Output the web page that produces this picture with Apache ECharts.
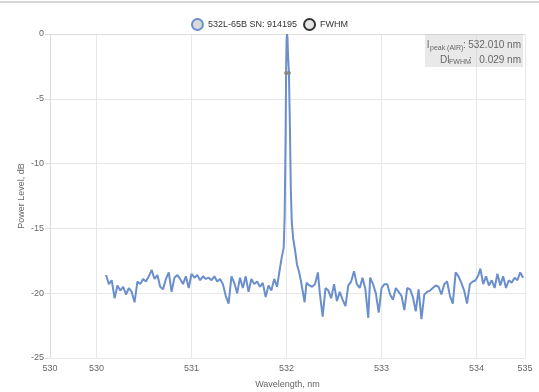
<!DOCTYPE html>
<html>
<head>
<meta charset="utf-8">
<script src="https://cdn.jsdelivr.net/npm/echarts@6/dist/echarts.min.js"></script>
<style>html,body{margin:0;padding:0;background:#fff;}#c{width:539px;height:392px;}</style>
</head>
<body>
<div id="c"></div>
<script>
const seriesName = '532L-65B SN: 914195';
const fwhmName = 'FWHM';
const wavelengths = [
530.10,530.13,530.16,530.19,530.22,530.25,530.28,530.31,530.34,530.37,530.40,530.43,530.46,
530.49,530.52,530.55,530.58,530.61,530.64,530.67,530.70,530.73,530.76,530.79,530.82,530.85,530.88,530.91,530.94,530.97,
531.00,531.03,531.06,531.09,531.12,531.15,531.18,531.21,531.24,531.27,531.30,531.33,531.36,531.39,531.42,531.45,531.48,
531.51,531.54,531.57,531.60,531.63,531.66,531.69,531.72,531.75,531.78,531.81,531.84,531.87,531.90,531.93,531.95,531.97,
531.98,531.99,531.995,532.00,532.005,532.01,532.015,532.025,532.035,532.045,532.055,532.07,532.09,532.11,532.13,532.15,
532.17,532.19,532.21,532.24,532.27,532.30,532.33,532.35,532.38,532.41,532.44,532.47,532.50,532.53,532.56,532.59,532.62,
532.65,532.68,532.71,532.74,532.77,532.80,532.83,532.86,532.88,532.91,532.94,532.97,533.00,533.03,533.06,533.09,533.12,
533.15,533.18,533.21,533.24,533.27,533.30,533.33,533.36,533.39,533.42,533.45,533.48,533.51,533.54,533.57,533.60,533.63,
533.66,533.69,533.72,533.75,533.78,533.81,533.84,533.87,533.90,533.93,533.96,533.99,534.02,534.04,534.07,534.10,534.13,
534.16,534.19,534.22,534.25,534.28,534.31,534.34,534.37,534.40,534.43,534.46,534.49
];
const powerDb = [
-18.6,-19.3,-19.0,-20.4,-19.4,-19.8,-19.5,-20.1,-19.6,-19.9,-20.7,-19.1,-19.3,
-18.9,-19.1,-18.7,-18.2,-18.9,-18.6,-19.5,-19.7,-18.9,-18.4,-19.9,-18.8,-18.6,-18.9,-19.3,-18.7,-19.6,
-18.5,-18.8,-18.6,-19.0,-18.7,-18.9,-18.8,-19.0,-18.7,-19.1,-18.9,-19.3,-20.2,-20.8,-18.7,-19.2,-20.0,
-18.8,-19.6,-18.7,-19.9,-18.9,-19.3,-19.1,-19.5,-19.2,-20.3,-19.4,-19.8,-18.9,-19.5,-18.1,-17.2,-16.5,
-14.0,-8.0,-3.0,-0.5,0,-0.3,-1.5,-3.0,-7.0,-12.0,-14.5,-15.8,-16.7,-17.8,-18.3,-19.0,
-19.1,-20.7,-19.2,-19.4,-19.5,-19.3,-18.4,-20.0,-21.8,-19.6,-19.8,-20.4,-19.3,-20.6,-19.9,-20.5,-21.0,
-19.4,-19.1,-18.3,-19.3,-19.6,-18.8,-19.7,-21.9,-18.8,-19.3,-20.0,-21.5,-19.6,-19.3,-19.3,-20.1,-20.5,
-19.6,-19.9,-20.2,-21.3,-19.6,-19.7,-20.3,-21.4,-19.7,-22.0,-20.1,-19.9,-19.8,-19.6,-19.4,-19.5,-20.1,
-19.3,-19.1,-20.2,-20.8,-18.4,-18.7,-19.2,-19.8,-20.8,-19.3,-19.1,-19.0,-18.6,-18.1,-19.3,-18.7,-19.4,
-19.0,-19.6,-18.5,-19.4,-18.7,-19.6,-19.0,-19.2,-18.8,-19.0,-18.4,-18.8
];
const fwhmWavelengths = [531.9955, 532.0245];
const fwhmPower = [-3, -3];
const peakText = '532.010 nm';
const fwhmText = '0.029 nm';

const chart = echarts.init(document.getElementById('c'), null, {renderer: 'canvas'});
const lineColor = '#6a8fcc';
const axisText = '#666';
const ff = 'Arial, Liberation Sans, sans-serif';
function t(x, y, text, size, align) {
  return {type: 'text', x: x, y: y, z: 11, style: {text: text, align: align || 'left', verticalAlign: 'middle', fontSize: size, fill: axisText, fontFamily: ff}};
}
chart.setOption({
  animation: false,
  grid: {left: 50, right: 14, top: 34, bottom: 34, containLabel: false, outerBoundsMode: 'none'},
  legend: {
    top: 13, left: 'center', itemWidth: 11, itemHeight: 11, itemGap: 6,
    textStyle: {fontSize: 9, color: '#333', fontFamily: ff},
    data: [
      {name: seriesName, icon: 'circle', itemStyle: {color: '#d9d9d9', borderColor: lineColor, borderWidth: 2}},
      {name: fwhmName, icon: 'circle', itemStyle: {color: '#e6e6e6', borderColor: '#333', borderWidth: 2}}
    ]
  },
  xAxis: {
    type: 'value', min: 529.51, max: 534.51,
    name: 'Wavelength, nm', nameLocation: 'middle', nameGap: 22,
    nameTextStyle: {fontSize: 9, color: axisText, fontFamily: ff},
    axisLine: {show: true, lineStyle: {color: '#ddd'}},
    axisTick: {show: false},
    axisLabel: {fontSize: 9, color: axisText, fontFamily: ff, margin: 6, formatter: v => String(Math.round(v)), showMinLabel: true, showMaxLabel: true},
    splitLine: {show: true, lineStyle: {color: '#e8e8e8'}}
  },
  yAxis: {
    type: 'value', min: -25, max: 0, interval: 5,
    name: 'Power Level, dB', nameLocation: 'middle', nameGap: 24, nameMoveOverlap: false,
    nameTextStyle: {fontSize: 9, color: axisText, fontFamily: ff},
    axisLine: {show: true, lineStyle: {color: '#ddd'}},
    axisTick: {show: true, length: 5, lineStyle: {color: '#ddd'}},
    axisLabel: {fontSize: 9, color: axisText, fontFamily: ff, margin: 6},
    splitLine: {show: true, lineStyle: {color: '#e8e8e8'}}
  },
  series: [
    {
      name: seriesName, type: 'line', showSymbol: false, symbol: 'none',
      data: wavelengths.map((w, i) => [w, powerDb[i]]),
      lineStyle: {color: lineColor, width: 2}, itemStyle: {color: lineColor}, z: 2
    },
    {
      name: fwhmName, type: 'line', symbol: 'circle', symbolSize: 4,
      data: fwhmWavelengths.map((w, i) => [w, fwhmPower[i]]),
      lineStyle: {color: '#777', width: 2}, itemStyle: {color: '#888'}, z: 3
    }
  ],
  graphic: [
    {type: 'rect', left: 0, top: 1, shape: {width: 539, height: 2}, style: {fill: '#d6d6d6'}},
    {type: 'rect', left: 425, top: 34, shape: {width: 98, height: 33}, style: {fill: 'rgba(200,200,200,0.4)'}, z: 10},
    t(427, 45, 'l', 10),
    t(430, 48, 'peak (AIR)', 7),
    t(463, 45, ':', 10),
    t(521, 45, peakText, 10, 'right'),
    t(440, 60, 'Dl', 10),
    t(449, 62, 'FWHM', 7),
    t(469, 60, ':', 10),
    t(521, 60, fwhmText, 10, 'right')
  ]
});
</script>
</body>
</html>
